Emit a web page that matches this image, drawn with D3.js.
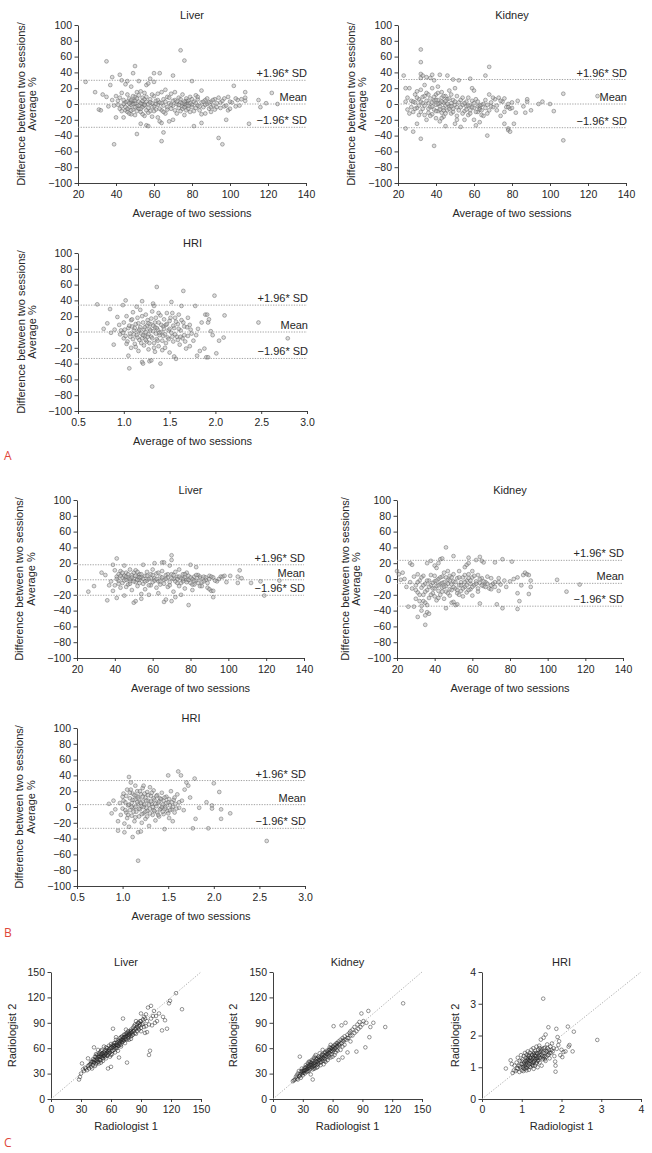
<!DOCTYPE html>
<html><head><meta charset="utf-8">
<script src="https://cdn.jsdelivr.net/npm/d3@7"></script>
<style>body{margin:0;background:#fff} text{font-family:"Liberation Sans",Arial,sans-serif;fill:#262626}</style>
</head><body><svg id="c" width="652" height="1153"></svg>
<script>
// ---------- data ----------
const liverA = [[24,28],[29,15],[31,-7],[32,-8],[33,12],[35,54],[35,9],[36,-3],[37,24],[38,34],[38,5],[39,-51],[39,-2],[40,10],[40,-17],[41,4],[42,37],[42,-6],[43,30],[43,14],[43,-3],[44,-17],[44,5],[45,25],[45,-8],[45,2],[46,29],[46,-10],[46,12],[47,-4],[47,7],[48,22],[48,2],[48,-1],[48,-13],[49,39],[49,4],[49,-7],[50,48],[50,-14],[50,1],[50,9],[51,-3],[51,15],[51,-38],[52,-6],[52,29],[52,3],[53,16],[53,-10],[53,-25],[54,0],[54,-4],[54,8],[55,-2],[55,14],[55,-15],[56,-27],[56,3],[56,24],[57,-28],[57,-5],[57,26],[58,32],[58,-9],[58,6],[59,1],[59,-16],[60,39],[60,28],[60,-3],[60,10],[61,-7],[61,4],[62,-17],[62,13],[62,-1],[63,39],[63,-22],[63,2],[64,-24],[64,-47],[64,15],[64,-8],[65,-36],[65,-2],[65,6],[66,18],[66,-12],[67,-4],[67,9],[68,-22],[68,1],[69,-6],[69,13],[70,36],[70,-20],[70,-2],[71,15],[71,5],[72,-12],[72,0],[73,-5],[73,8],[74,68],[74,2],[74,-9],[75,-3],[75,12],[76,55],[76,0],[76,-14],[77,4],[77,-2],[77,7],[78,-6],[78,1],[79,-10],[79,9],[80,29],[80,-1],[81,-28],[81,3],[82,-5],[82,11],[83,-2],[83,6],[84,-8],[85,17],[85,-24],[85,2],[86,-4],[87,5],[87,-12],[88,0],[89,-6],[90,-10],[90,3],[91,-2],[92,6],[93,-4],[94,-43],[94,8],[95,2],[96,-51],[97,-3],[98,-20],[99,9],[99,-8],[100,-6],[101,2],[102,23],[103,-3],[104,5],[106,6],[108,15],[108,8],[108,4],[110,-25],[115,5],[116,-4],[119,1],[122,14],[125,0],
[41,-1],[42,8],[43,-9],[44,0],[45,-4],[46,3],[46,-6],[47,1],[47,-12],[48,5],[48,-8],[49,0],[49,10],[50,-4],[50,4],[51,7],[51,-9],[52,-2],[52,11],[53,1],[53,-6],[54,4],[54,-13],[55,-1],[55,6],[56,-8],[56,9],[57,0],[57,-11],[58,2],[59,-4],[59,12],[60,-9],[61,0],[62,5],[63,-6],[64,1],[65,-10],[66,3],[67,-7],[68,8],[69,-1],[70,4],[71,-8],[72,3],[73,-1],[74,6],[75,-6],[75,1],[76,3],[76,-4],[77,-8],[78,4],[78,-2],[79,1],[80,-4],[80,6],[81,-9],[82,1],[83,9],[84,-3],[85,-13],[86,3],[87,-1],[88,7],[89,2],[90,-4],[91,5],[92,-7],[93,1],[95,-5],[96,4],[97,7],[98,-2],[100,3],[103,7],[105,-2]];
const kidneyA = [[23,36],[24,20],[24,3],[24,-31],[25,-7],[25,8],[26,20],[26,-12],[27,4],[27,-4],[28,-10],[28,-35],[29,2],[29,12],[30,-25],[30,16],[30,-5],[31,6],[31,-14],[32,69],[32,53],[32,38],[32,33],[32,-44],[32,3],[32,18],[33,36],[33,-6],[33,9],[34,24],[34,-2],[35,34],[35,14],[35,-20],[36,1],[36,-11],[37,33],[37,7],[37,-4],[38,37],[38,20],[38,-13],[39,30],[39,-53],[39,4],[39,-7],[40,-1],[40,12],[40,-18],[41,5],[41,-9],[41,22],[42,37],[42,-3],[42,1],[42,-22],[43,8],[43,-11],[43,15],[44,-5],[44,2],[44,-16],[45,-28],[45,10],[45,-2],[46,36],[46,6],[46,-8],[47,-3],[47,17],[48,1],[48,-12],[49,31],[49,5],[49,-6],[50,20],[50,-1],[50,-25],[51,10],[51,-15],[52,30],[52,2],[53,-29],[53,-4],[54,-1],[54,8],[55,-9],[55,-20],[56,3],[56,-3],[57,8],[57,-14],[58,32],[58,-2],[58,-8],[59,20],[59,4],[60,-20],[60,17],[60,-5],[61,-27],[61,6],[62,-10],[62,-3],[63,-23],[63,-5],[63,-7],[64,-1],[64,-14],[65,-15],[66,36],[66,5],[67,-40],[67,-1],[68,47],[68,12],[68,-8],[69,2],[70,-4],[71,6],[72,-2],[73,8],[74,-15],[75,3],[76,-25],[76,7],[77,-4],[78,-31],[78,-33],[78,0],[79,-35],[79,-6],[80,-5],[81,-25],[82,-11],[83,4],[86,-3],[87,-11],[88,3],[88,6],[90,-8],[94,0],[96,3],[100,0],[102,-9],[107,13],[107,-46],[125,10],
[28,3],[29,-6],[30,8],[31,-2],[32,-10],[33,1],[34,10],[34,-14],[35,4],[36,-6],[36,12],[37,-15],[38,2],[38,-3],[39,9],[40,5],[40,-9],[41,0],[41,14],[42,-7],[43,3],[43,-18],[44,10],[44,-8],[45,4],[45,-12],[46,0],[47,-6],[47,7],[48,-3],[48,12],[49,-10],[50,3],[51,-4],[51,-20],[52,-8],[53,5],[54,-12],[55,1],[56,-7],[57,-2],[58,-12],[59,-4],[60,1],[61,-10],[62,3],[63,-2],[64,-8],[65,0],[66,-5],[67,-12],[69,-3],[70,8],[72,-8],[74,4],[76,-10],[78,-4],[80,2]];
const hriA = [[0.71,35],[0.78,4],[0.82,11],[0.85,29],[0.86,-1],[0.89,-16],[0.9,3],[0.93,19],[0.95,9],[0.96,-3],[0.97,2],[0.99,-1],[0.99,34],[1.0,12],[1.0,-8],[1.02,40],[1.02,-5],[1.03,20],[1.04,-12],[1.05,-30],[1.05,5],[1.06,-46],[1.07,-2],[1.08,15],[1.08,-20],[1.09,7],[1.1,-9],[1.1,25],[1.11,2],[1.12,-15],[1.13,10],[1.14,-4],[1.14,32],[1.15,18],[1.16,-24],[1.16,1],[1.17,-10],[1.18,6],[1.18,28],[1.19,-2],[1.2,39],[1.2,-38],[1.2,-8],[1.21,-40],[1.21,12],[1.22,3],[1.22,-17],[1.23,-5],[1.24,22],[1.24,0],[1.25,-12],[1.25,8],[1.26,15],[1.27,-22],[1.27,-3],[1.28,-37],[1.28,4],[1.29,10],[1.3,-36],[1.3,-6],[1.31,-69],[1.31,26],[1.32,36],[1.32,1],[1.33,33],[1.33,-14],[1.34,6],[1.34,-25],[1.35,-2],[1.35,18],[1.36,57],[1.36,-9],[1.37,3],[1.38,-18],[1.38,12],[1.39,-4],[1.4,-40],[1.4,21],[1.41,0],[1.42,-11],[1.43,7],[1.44,16],[1.45,-20],[1.45,-3],[1.46,9],[1.47,24],[1.48,-7],[1.49,2],[1.5,-26],[1.5,14],[1.52,38],[1.52,-1],[1.53,24],[1.54,-12],[1.55,-31],[1.55,5],[1.56,18],[1.57,-34],[1.58,-6],[1.59,10],[1.6,22],[1.61,-16],[1.62,2],[1.63,33],[1.64,-8],[1.65,52],[1.65,12],[1.66,-4],[1.68,-21],[1.69,6],[1.7,18],[1.72,-18],[1.72,9],[1.74,-2],[1.76,-11],[1.78,33],[1.79,-4],[1.8,-30],[1.81,4],[1.83,-24],[1.85,12],[1.88,-21],[1.89,22],[1.9,-32],[1.91,22],[1.92,-32],[1.92,12],[1.93,16],[1.95,1],[1.97,-4],[1.99,46],[2.01,-27],[2.04,-11],[2.09,-7],[2.1,21],[2.47,12],[2.79,-8],
[1.01,3],[1.03,-15],[1.06,8],[1.07,-6],[1.09,16],[1.11,-3],[1.12,5],[1.13,-19],[1.15,-7],[1.16,11],[1.17,3],[1.19,-14],[1.2,20],[1.21,-4],[1.23,6],[1.24,-10],[1.26,-6],[1.27,11],[1.28,-14],[1.29,2],[1.3,17],[1.31,-8],[1.32,8],[1.33,-20],[1.34,12],[1.36,5],[1.37,-11],[1.38,24],[1.39,-1],[1.41,9],[1.42,-23],[1.43,-5],[1.44,4],[1.46,-14],[1.47,10],[1.49,-9],[1.5,4],[1.51,18],[1.53,-6],[1.54,8],[1.56,-3],[1.57,13],[1.59,-10],[1.6,4],[1.62,-6],[1.63,15],[1.66,7],[1.67,-12],[1.7,-5],[1.73,3]];
const liverB = [[26,-16],[29,-9],[33,8],[35,5],[36,-27],[37,-8],[38,-3],[39,18],[39,-15],[40,11],[40,-8],[41,3],[41,26],[41,-24],[42,6],[42,-2],[43,10],[43,-11],[44,2],[44,-5],[45,17],[45,-21],[45,4],[46,-1],[46,8],[47,-7],[47,2],[48,12],[48,-3],[49,5],[49,-14],[50,-30],[50,0],[50,8],[51,-28],[51,-4],[51,11],[52,3],[52,-9],[53,6],[53,-1],[54,-25],[54,-19],[54,2],[55,18],[55,-6],[56,4],[56,-13],[57,9],[57,-2],[58,0],[58,-20],[59,6],[59,-8],[60,-4],[60,12],[61,20],[61,1],[62,-11],[62,7],[63,-3],[63,-18],[64,3],[64,-7],[65,21],[65,10],[66,21],[66,-29],[66,-1],[67,-26],[67,5],[68,-10],[68,2],[69,17],[69,-4],[70,30],[70,24],[70,-28],[70,6],[71,-16],[71,0],[72,-23],[72,9],[73,-5],[73,3],[74,12],[74,-9],[75,-20],[75,1],[76,6],[76,-3],[77,-12],[77,2],[78,8],[78,-1],[79,-33],[79,4],[80,18],[80,-5],[81,0],[81,-14],[82,3],[82,-7],[83,15],[83,-2],[84,5],[85,-9],[85,1],[86,-4],[87,3],[88,-1],[89,-11],[90,-13],[90,4],[91,-15],[92,-23],[92,-15],[92,2],[94,-3],[96,3],[97,3],[98,4],[99,-4],[101,4],[105,-5],[105,3],[106,11],[107,1],[112,-5],[117,-3],[119,-21],[127,-2],
[41,0],[42,-6],[43,4],[44,8],[45,-2],[46,3],[46,-10],[47,6],[48,0],[48,-6],[49,2],[50,-3],[51,4],[52,-1],[52,9],[53,-5],[53,2],[54,6],[55,0],[56,-3],[57,4],[58,-8],[59,1],[60,5],[61,-2],[62,0],[63,8],[64,-3],[65,2],[66,-6],[67,0],[68,6],[69,-8],[70,1],[71,5],[72,-3],[73,0],[74,3],[75,-5],[76,0],[77,6],[78,-4],[79,-1],[80,2],[81,-7],[82,-2],[83,5],[84,-5],[85,3],[86,-9],[87,-3],[88,2],[89,-5],[90,0],[91,3],[93,-2],[95,0]];
const kidneyB = [[20,10],[21,6],[22,-1],[23,8],[24,0],[25,-10],[26,-35],[27,20],[27,-4],[28,18],[28,-12],[29,-35],[29,3],[30,-25],[30,-8],[31,-48],[31,6],[31,-17],[32,-2],[32,-28],[33,-34],[33,-11],[33,-40],[34,-28],[34,4],[34,-20],[35,-58],[35,-46],[35,-6],[35,-30],[36,20],[36,-42],[36,-14],[36,-33],[37,-44],[37,-2],[37,-24],[38,23],[38,-8],[38,5],[39,-18],[39,-12],[40,17],[40,-3],[40,-22],[41,14],[41,-9],[41,-27],[42,20],[42,0],[42,-15],[43,25],[43,-6],[43,-20],[44,26],[44,3],[44,-11],[45,-4],[45,-25],[45,8],[46,40],[46,-37],[46,-9],[46,-16],[47,-1],[47,10],[48,-13],[48,-21],[48,4],[49,-7],[49,-30],[50,29],[50,-29],[50,-3],[50,6],[51,-33],[51,-12],[52,-32],[52,1],[52,-18],[53,-8],[53,10],[54,-4],[54,-15],[55,-22],[55,2],[56,15],[56,-10],[57,-17],[57,18],[57,-2],[58,27],[58,20],[58,6],[59,-6],[59,-13],[60,-21],[60,2],[60,10],[61,-8],[62,24],[62,-3],[63,5],[63,-12],[64,28],[64,-31],[64,-5],[65,23],[65,1],[66,21],[66,-9],[67,-4],[68,3],[69,-12],[70,-13],[70,1],[71,-6],[72,21],[72,-4],[73,-32],[74,-15],[74,1],[75,-7],[76,25],[76,-37],[77,-2],[78,-10],[80,-3],[81,22],[82,0],[84,-38],[84,-18],[84,2],[85,-28],[86,-8],[87,5],[88,8],[89,6],[90,-19],[90,5],[91,-10],[91,-2],[105,-1],[110,-16],[117,-7],
[30,-14],[31,-4],[32,-20],[33,2],[34,-8],[35,-16],[36,-2],[37,-10],[38,-20],[39,-5],[40,-12],[40,4],[41,-2],[42,-8],[42,-24],[43,2],[44,-16],[44,-5],[45,-10],[46,2],[47,-18],[47,-6],[48,-2],[49,-14],[49,2],[50,-10],[51,-4],[52,-14],[53,-20],[53,2],[54,-8],[55,-12],[56,-4],[56,5],[57,-8],[58,-14],[58,1],[59,-2],[60,-10],[61,4],[62,-6],[63,-16],[64,0],[65,-8],[66,-3],[67,-10],[68,-6],[70,-8],[72,-10],[74,-4]];
const hriB = [[0.85,4],[0.88,-8],[0.9,8],[0.92,-3],[0.95,-18],[0.95,-30],[0.97,5],[0.98,-10],[1.0,13],[1.0,-2],[1.01,17],[1.02,-21],[1.02,-32],[1.03,6],[1.04,-7],[1.05,22],[1.05,-14],[1.06,2],[1.07,38],[1.07,-25],[1.08,11],[1.08,-4],[1.09,22],[1.09,31],[1.1,-11],[1.1,5],[1.11,-38],[1.11,17],[1.12,-1],[1.13,9],[1.13,-18],[1.14,27],[1.14,0],[1.15,-6],[1.15,14],[1.16,20],[1.17,-32],[1.17,-68],[1.17,4],[1.18,-12],[1.18,10],[1.19,-3],[1.2,-31],[1.2,16],[1.21,1],[1.21,-20],[1.22,24],[1.22,7],[1.23,27],[1.23,-8],[1.24,3],[1.25,-15],[1.25,12],[1.26,-1],[1.27,19],[1.27,-5],[1.28,8],[1.29,-24],[1.3,25],[1.3,-2],[1.31,14],[1.32,4],[1.33,-10],[1.34,21],[1.34,-4],[1.35,9],[1.36,-17],[1.37,1],[1.38,15],[1.38,-7],[1.39,5],[1.4,-12],[1.41,11],[1.42,-2],[1.43,18],[1.44,3],[1.45,-9],[1.45,8],[1.46,-28],[1.47,0],[1.48,13],[1.49,-5],[1.5,40],[1.5,6],[1.51,-14],[1.52,2],[1.53,20],[1.54,-3],[1.55,-18],[1.56,9],[1.57,-7],[1.58,4],[1.6,16],[1.61,45],[1.62,-1],[1.64,40],[1.65,8],[1.67,-4],[1.68,22],[1.7,31],[1.72,27],[1.74,12],[1.77,-27],[1.79,36],[1.8,-15],[1.84,-1],[1.92,6],[1.94,-27],[1.98,2],[1.98,-2],[2.0,30],[2.06,19],[2.08,-3],[2.08,-15],[2.18,-8],[2.58,-43],
[1.01,8],[1.03,-4],[1.04,14],[1.06,-10],[1.07,3],[1.08,18],[1.1,0],[1.11,9],[1.12,-6],[1.13,15],[1.14,-13],[1.16,6],[1.17,12],[1.18,-2],[1.19,20],[1.2,5],[1.21,-9],[1.22,13],[1.23,0],[1.24,17],[1.25,-6],[1.26,8],[1.27,-12],[1.28,15],[1.29,3],[1.3,-8],[1.31,7],[1.32,18],[1.33,0],[1.34,11],[1.35,-5],[1.36,4],[1.37,14],[1.39,-10],[1.4,7],[1.41,-3],[1.42,10],[1.43,0],[1.44,-6],[1.46,12],[1.47,-2],[1.48,5],[1.5,-8],[1.51,10],[1.52,-4],[1.54,6],[1.55,0],[1.57,12],[1.59,-2],[1.62,6]];
const liverC = [[28,23],[29,26],[30,30],[31,42],[32,35],[33,33],[34,37],[35,36],[36,34],[37,48],[37,39],[38,36],[39,41],[40,38],[40,44],[41,36],[42,40],[42,47],[43,61],[43,43],[44,39],[44,50],[45,45],[45,41],[46,48],[46,52],[47,44],[47,58],[48,47],[48,42],[49,50],[49,55],[50,46],[50,53],[51,49],[51,58],[52,51],[52,45],[53,55],[53,62],[54,50],[54,57],[55,53],[55,48],[56,60],[56,55],[57,36],[57,52],[58,58],[58,63],[59,55],[59,50],[60,38],[60,60],[60,65],[61,57],[61,53],[62,83],[62,62],[63,58],[63,66],[64,61],[64,55],[65,64],[65,70],[66,60],[66,67],[67,63],[67,57],[68,49],[68,68],[69,65],[69,72],[70,70],[70,62],[71,74],[71,67],[72,95],[72,72],[73,69],[73,76],[74,73],[74,66],[75,77],[75,71],[76,43],[76,75],[77,72],[77,80],[78,78],[78,70],[79,76],[80,82],[80,74],[81,79],[82,84],[82,76],[83,81],[84,88],[84,78],[85,77],[86,85],[86,80],[87,90],[88,86],[88,82],[89,92],[90,101],[90,84],[91,88],[92,94],[93,85],[94,95],[94,78],[95,100],[96,79],[96,92],[97,108],[98,52],[98,88],[99,57],[100,110],[100,95],[101,87],[102,98],[103,104],[104,90],[105,98],[106,92],[108,101],[111,81],[112,97],[114,93],[116,83],[118,113],[119,116],[125,125],[131,106],[41,44],[43,46],[45,50],[46,43],[47,50],[48,53],[49,46],[50,50],[51,54],[52,48],[53,51],[54,54],[55,58],[56,51],[57,56],[58,54],[59,60],[61,61],[62,57],[63,63],[64,66],[65,60],[66,64],[67,69],[68,63],[69,68],[70,73],[71,70],[72,68],[73,73],[74,76],[75,74],[76,70],[77,76],[78,74],[79,80],[80,78],[81,75],[83,86],[85,83],[87,84],[89,88],[92,89],[95,86],
[38,40],[40,42],[42,44],[44,46],[46,46],[48,50],[50,52],[52,53],[54,52],[56,57],[58,57],[60,62],[62,64],[64,63],[66,62],[68,66],[70,68],[72,70],[74,71],[76,78],[78,76],[80,80],[82,80],[84,83],[86,88],[88,90],[90,92],[93,97],[45,53],[50,57],[55,61],[65,73],[75,82],[85,92],[50,43],[60,52],[70,64],[80,71],[90,80]];
const kidneyC = [[20,21],[21,22],[22,23],[23,26],[24,24],[24,28],[25,30],[25,23],[26,27],[26,33],[27,29],[27,50],[28,25],[28,32],[29,36],[29,30],[30,28],[30,33],[31,35],[31,31],[32,37],[32,30],[33,34],[33,40],[34,32],[34,38],[35,36],[35,42],[36,33],[36,39],[37,44],[37,35],[38,40],[38,29],[39,46],[39,37],[40,41],[40,35],[40,23],[41,48],[41,39],[42,43],[42,36],[43,52],[43,45],[44,40],[44,47],[45,44],[45,38],[46,50],[46,42],[47,46],[47,54],[48,44],[48,40],[49,50],[49,47],[50,45],[50,53],[51,49],[51,41],[52,55],[52,47],[53,51],[53,44],[54,57],[54,50],[55,53],[55,46],[56,58],[56,51],[57,54],[57,61],[58,56],[58,49],[59,60],[59,53],[60,62],[60,56],[61,86],[61,58],[62,52],[62,64],[63,60],[63,55],[64,66],[64,58],[65,62],[66,46],[66,68],[67,63],[68,70],[68,58],[69,87],[69,66],[70,49],[70,72],[71,68],[72,64],[72,74],[73,90],[74,70],[75,55],[75,76],[76,72],[77,78],[78,68],[78,80],[80,75],[80,82],[82,78],[82,85],[84,56],[84,80],[85,88],[86,83],[87,91],[88,85],[89,101],[90,88],[91,92],[93,61],[94,90],[96,104],[97,73],[98,85],[101,90],[113,85],[131,113],[30,31],[32,34],[34,35],[36,37],[38,43],[40,38],[42,40],[44,44],[46,46],[48,48],[50,48],[52,51],[54,53],[56,55],[58,60],[60,59],[62,60],[64,62],[66,64],[45,41],[43,42],[41,36],[39,40],[37,38],[35,33],
[27,27],[29,33],[31,33],[33,37],[35,39],[37,41],[39,43],[41,42],[43,48],[45,48],[47,49],[49,52],[51,52],[53,55],[55,56],[57,58],[59,57],[61,62],[63,64],[65,66],[67,65],[70,69],[72,70],[75,72],[78,75],[40,45],[44,37],[48,43],[52,45],[56,49],[60,50],[65,57],[70,62],[36,44],[42,50],[50,58],[58,64]];
const hriC = [[0.6,0.96],[0.72,1.22],[0.75,1.1],[0.77,0.82],[0.8,0.9],[0.82,1.05],[0.85,0.88],[0.87,1.15],[0.9,0.95],[0.9,1.3],[0.92,1.05],[0.94,0.85],[0.95,1.2],[0.97,1.0],[0.98,1.38],[1.0,1.1],[1.0,0.9],[1.02,1.25],[1.03,1.0],[1.04,0.88],[1.05,1.35],[1.06,1.15],[1.07,1.05],[1.08,1.45],[1.09,0.95],[1.1,1.2],[1.1,1.3],[1.11,1.08],[1.12,1.4],[1.13,0.98],[1.14,1.25],[1.15,1.15],[1.15,1.5],[1.16,1.05],[1.17,1.35],[1.18,0.92],[1.19,1.22],[1.2,1.1],[1.2,1.45],[1.21,1.3],[1.22,1.0],[1.23,1.18],[1.24,1.55],[1.25,1.25],[1.26,1.08],[1.27,1.38],[1.28,1.15],[1.29,1.6],[1.3,1.28],[1.3,0.95],[1.31,1.45],[1.32,1.2],[1.33,1.05],[1.34,1.52],[1.35,1.35],[1.36,1.12],[1.37,1.65],[1.38,1.28],[1.39,1.42],[1.4,1.0],[1.41,1.55],[1.42,1.22],[1.43,1.35],[1.44,1.68],[1.45,1.15],[1.46,1.48],[1.47,1.3],[1.48,1.87],[1.5,1.4],[1.5,1.05],[1.52,1.58],[1.53,1.25],[1.54,3.16],[1.55,1.93],[1.55,1.45],[1.57,1.35],[1.58,1.62],[1.6,2.03],[1.6,1.2],[1.62,1.5],[1.64,1.72],[1.65,1.38],[1.67,2.26],[1.68,1.55],[1.7,1.28],[1.72,1.65],[1.74,1.45],[1.76,1.75],[1.78,1.5],[1.8,1.6],[1.82,1.35],[1.84,1.18],[1.85,0.86],[1.85,1.05],[1.87,2.21],[1.88,1.58],[1.9,1.95],[1.92,1.7],[1.94,1.82],[1.97,1.38],[2.0,1.55],[2.02,1.32],[2.05,1.48],[2.1,1.5],[2.16,2.28],[2.18,1.65],[2.2,1.7],[2.28,1.5],[2.31,2.12],[2.9,1.86],[1.05,1.1],[1.1,1.0],[1.15,1.3],[1.2,1.2],[1.25,1.4],[1.3,1.15],[1.35,1.25],[1.4,1.3],[1.45,1.4],[1.5,1.5],[1.55,1.3],[1.6,1.45],[1.65,1.6],[1.7,1.45],[1.12,1.18],[1.22,1.3],[1.32,1.38],[1.42,1.45],[1.28,1.05],[1.38,1.15],
[1.0,1.2],[1.05,0.95],[1.1,1.12],[1.15,1.22],[1.18,1.38],[1.2,1.02],[1.25,1.12],[1.28,1.3],[1.3,1.42],[1.33,1.28],[1.36,1.45],[1.4,1.2],[1.44,1.3],[1.48,1.55],[1.52,1.35],[1.56,1.6],[1.6,1.32],[1.64,1.5],[1.68,1.4],[1.75,1.55],[0.95,1.05],[0.88,0.98],[1.12,0.9],[1.45,1.6],[1.58,1.25]];

// Bland-Altman lines: mean, +1.96 SD, -1.96 SD  (order: liverA, kidneyA, hriA, liverB, kidneyB, hriB)
const baMean  = [0, 0, 0, -1, -5.5, 3];
const baUpper = [30, 31, 34, 18, 23.6, 33.5];
const baLower = [-29.5, -30, -33.5, -20.6, -34.4, -27];

// tick labels
const baYTicks = [-100,-80,-60,-40,-20,0,20,40,60,80,100];
const organXTicks = [20,40,60,80,100,120,140];
const hriXTicks = [0.5,1.0,1.5,2.0,2.5,3.0];
const corrTicks = [0,30,60,90,120,150];
const hriCorrTicks = [0,1,2,3,4];
const lineLabels = ["Mean","+1.96* SD","\u22121.96* SD"];

// ---------- drawing ----------
const svg = d3.select("#c");
const AX = "#2a2a2a";

function styleAxis(g, fs){
  g.select(".domain").attr("stroke", AX).attr("stroke-width", 0.9);
  g.selectAll(".tick line").attr("stroke", AX).attr("stroke-width", 0.9);
  g.selectAll(".tick text").attr("fill", AX).style("font-size", fs + "px")
    .style("font-family", '"Liberation Sans", Arial, sans-serif');
}

function drawBA(p){
  const g = svg.append("g");
  const xs = d3.scaleLinear().domain(p.xd).range([p.x0, p.x1]);
  const ys = d3.scaleLinear().domain([-100, 100]).range([p.yB, p.yT]);
  const ya = g.append("g").attr("transform", `translate(${p.x0},0)`)
    .call(d3.axisLeft(ys).tickValues(baYTicks).tickSize(3.5).tickSizeOuter(0).tickPadding(2.5));
  styleAxis(ya, 10.5);
  const xa = g.append("g").attr("transform", `translate(0,${p.yB})`)
    .call(d3.axisBottom(xs).tickValues(p.xt).tickFormat(p.fmt).tickSize(3).tickSizeOuter(0).tickPadding(4.5));
  styleAxis(xa, 10.5);
  const vals = [baMean[p.s], baUpper[p.s], baLower[p.s]];
  vals.forEach((v) => {
    g.append("line").attr("x1", p.x0).attr("x2", p.x1).attr("y1", ys(v)).attr("y2", ys(v))
      .attr("stroke", "#9a9a9a").attr("stroke-width", 0.9).attr("stroke-dasharray", "1.3,1.3");
  });
  g.append("g").selectAll("circle").data(p.data).join("circle")
    .attr("cx", d => xs(d[0])).attr("cy", d => ys(d[1])).attr("r", 1.9)
    .attr("fill", "#b0b0b0").attr("fill-opacity", 0.45)
    .attr("stroke", "#505050").attr("stroke-opacity", 0.7).attr("stroke-width", 0.6);
  vals.forEach((v, i) => {
    g.append("text").attr("x", p.x1 + 1).attr("y", ys(v) - 3).attr("text-anchor", "end")
      .style("font-size", "11px").text(lineLabels[i]);
  });
  g.append("text").attr("x", (p.x0 + p.x1) / 2).attr("y", p.yT - 6).attr("text-anchor", "middle")
    .style("font-size", "11px").text(p.title);
  g.append("text").attr("x", (p.x0 + p.x1) / 2).attr("y", p.yB + 33.5).attr("text-anchor", "middle")
    .style("font-size", "11px").text("Average of two sessions");
  const cy = (p.yT + p.yB) / 2;
  [["Difference between two sessions/", p.ly[0]], ["Average %", p.ly[1]]].forEach(([t, x]) => {
    g.append("text").attr("transform", `translate(${x},${cy}) rotate(-90)`).attr("dy", "0.35em")
      .attr("text-anchor", "middle").style("font-size", "11px").text(t);
  });
}

function drawCorr(p){
  const g = svg.append("g");
  const xs = d3.scaleLinear().domain([0, p.max]).range([p.x0, p.x1]);
  const ys = d3.scaleLinear().domain([0, p.max]).range([p.yB, p.yT]);
  const fmt = d3.format("d");
  const ya = g.append("g").attr("transform", `translate(${p.x0},0)`)
    .call(d3.axisLeft(ys).tickValues(p.ticks).tickFormat(fmt).tickSize(3.5).tickSizeOuter(0).tickPadding(2.5));
  styleAxis(ya, 10.5);
  const xa = g.append("g").attr("transform", `translate(0,${p.yB})`)
    .call(d3.axisBottom(xs).tickValues(p.ticks).tickFormat(fmt).tickSize(3).tickSizeOuter(0).tickPadding(3.5));
  styleAxis(xa, 10.5);
  g.append("line").attr("x1", xs(0)).attr("y1", ys(0)).attr("x2", xs(p.max)).attr("y2", ys(p.max))
    .attr("stroke", "#a8a8a8").attr("stroke-width", 0.9).attr("stroke-dasharray", "1.3,1.6");
  g.append("g").selectAll("circle").data(p.data).join("circle")
    .attr("cx", d => xs(d[0])).attr("cy", d => ys(d[1])).attr("r", 1.8)
    .attr("fill", "none").attr("stroke", "#222").attr("stroke-opacity", 0.8).attr("stroke-width", 0.6);
  g.append("text").attr("x", (p.x0 + p.x1) / 2).attr("y", p.yT - 6).attr("text-anchor", "middle")
    .style("font-size", "11px").text(p.title);
  g.append("text").attr("x", (p.x0 + p.x1) / 2).attr("y", p.yB + 31).attr("text-anchor", "middle")
    .style("font-size", "11px").text("Radiologist 1");
  g.append("text").attr("transform", `translate(${p.lx},${(p.yT + p.yB) / 2}) rotate(-90)`).attr("dy", "0.35em")
    .attr("text-anchor", "middle").style("font-size", "11px").text("Radiologist 2");
}

const fInt = d3.format("d"), f1 = d3.format(".1f");
drawBA({data: liverA,  title: "Liver",  s: 0, x0: 78,  x1: 306, yT: 25,  yB: 183, xd: [20,140], xt: organXTicks, fmt: fInt, ly: [21, 32]});
drawBA({data: kidneyA, title: "Kidney", s: 1, x0: 398, x1: 626, yT: 25,  yB: 183, xd: [20,140], xt: organXTicks, fmt: fInt, ly: [351, 362]});
drawBA({data: hriA,    title: "HRI",    s: 2, x0: 78,  x1: 307, yT: 253, yB: 411, xd: [0.5,3],  xt: hriXTicks,   fmt: f1,   ly: [21, 32]});
drawBA({data: liverB,  title: "Liver",  s: 3, x0: 77,  x1: 304, yT: 500, yB: 658, xd: [20,140], xt: organXTicks, fmt: fInt, ly: [19, 31]});
drawBA({data: kidneyB, title: "Kidney", s: 4, x0: 397, x1: 623, yT: 500, yB: 658, xd: [20,140], xt: organXTicks, fmt: fInt, ly: [345, 356]});
drawBA({data: hriB,    title: "HRI",    s: 5, x0: 77,  x1: 305, yT: 728, yB: 886, xd: [0.5,3],  xt: hriXTicks,   fmt: f1,   ly: [19, 31]});

drawCorr({data: liverC,  title: "Liver",  max: 150, ticks: corrTicks,    x0: 51,  x1: 201, yT: 972, yB: 1099, lx: 12});
drawCorr({data: kidneyC, title: "Kidney", max: 150, ticks: corrTicks,    x0: 273, x1: 422, yT: 972, yB: 1099, lx: 233});
drawCorr({data: hriC,    title: "HRI",    max: 4,   ticks: hriCorrTicks, x0: 482, x1: 641, yT: 972, yB: 1099, lx: 455});

[["A", 460], ["B", 937], ["C", 1147]].forEach(([t, y]) => {
  svg.append("text").attr("x", 4).attr("y", y).style("font-size", "12px")
    .style("font-family", '"Open Sans", "Noto Sans", sans-serif').style("fill", "#e0453a").text(t);
});
</script></body></html>
